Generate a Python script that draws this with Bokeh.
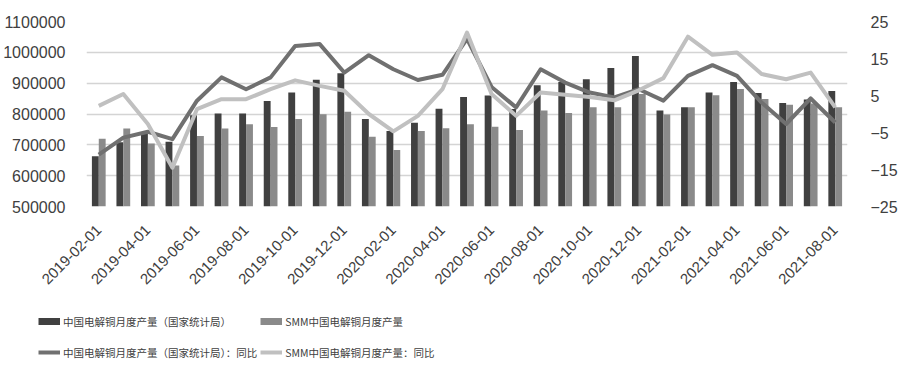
import math
from bokeh.plotting import figure
from bokeh.layouts import column
from bokeh.models import (Range1d, LinearAxis, FixedTicker, Legend, LegendItem,
                          NumeralTickFormatter, ColumnDataSource)
from bokeh.transform import dodge
from bokeh.embed import file_html
from bokeh.resources import INLINE

dates = [
    "2019-02-01", "2019-03-01", "2019-04-01", "2019-05-01", "2019-06-01", "2019-07-01",
    "2019-08-01", "2019-09-01", "2019-10-01", "2019-11-01", "2019-12-01", "2020-01-01",
    "2020-02-01", "2020-03-01", "2020-04-01", "2020-05-01", "2020-06-01", "2020-07-01",
    "2020-08-01", "2020-09-01", "2020-10-01", "2020-11-01", "2020-12-01", "2021-01-01",
    "2021-02-01", "2021-03-01", "2021-04-01", "2021-05-01", "2021-06-01", "2021-07-01",
    "2021-08-01",
]
nbs_output = [663000, 708000, 737000, 710000, 796000, 802000, 802000, 842000, 870000, 911000,
              932000, 784000, 745000, 772000, 817000, 855000, 860000, 816000, 893000, 904000,
              913000, 949000, 988000, 811000, 822000, 870000, 904000, 868000, 836000, 847000,
              875000]
smm_output = [720000, 753000, 704000, 633000, 729000, 753000, 767000, 758000, 784000, 799000,
              807000, 726000, 683000, 745000, 754000, 767000, 759000, 748000, 811000, 803000,
              822000, 822000, 865000, 798000, 822000, 861000, 881000, 849000, 830000, 834000,
              822000]
nbs_yoy = [-11.0, -6.4, -4.8, -6.8, 3.6, 9.9, 6.7, 9.9, 18.4, 18.9, 11.2, 15.9, 12.1, 9.2,
           10.6, 20.3, 7.3, 1.8, 12.1, 8.5, 5.8, 4.5, 6.7, 3.6, 10.3, 13.2, 10.3, 3.1, -2.7,
           4.2, -2.3]
smm_yoy = [2.2, 5.4, -2.7, -14.5, 1.3, 4.0, 4.0, 6.7, 9.1, 7.6, 6.3, 0.0, -4.7, -0.5, 6.7,
           22.0, 5.4, -0.5, 5.8, 5.2, 4.6, 3.7, 6.4, 9.7, 20.9, 16.0, 16.6, 10.8, 9.4, 11.2, 1.8]
left_ticks = [500000, 600000, 700000, 800000, 900000, 1000000, 1100000]
right_ticks = [-25, -15, -5, 5, 15, 25]
labels = ["中国电解铜月度产量（国家统计局）", "SMM中国电解铜月度产量",
          "中国电解铜月度产量（国家统计局）：同比", "SMM中国电解铜月度产量：同比"]

C_DARK = "#404040"
C_MID = "#8a8a8a"
C_LINE1 = "#707070"
C_LINE2 = "#c0c0c0"
TXT = "#404040"

idx = list(range(len(dates)))
src = ColumnDataSource(dict(i=idx, a=nbs_output, b=smm_output, ya=nbs_yoy, yb=smm_yoy))

p = figure(x_range=Range1d(-0.5, len(dates) - 0.5), y_range=Range1d(500000, 1100000),
           width=900, height=298, output_backend="svg", toolbar_location=None,
           min_border_left=86, min_border_right=51, min_border_top=21, min_border_bottom=92)
p.frame_align = False
p.extra_y_ranges = {"yoy": Range1d(-25, 25)}
p.outline_line_color = None

p.vbar(x=dodge("i", -0.14), top="a", bottom=500000, width=0.28,
       source=src, color=C_DARK, line_color=None)
p.vbar(x=dodge("i", 0.14), top="b", bottom=500000, width=0.28,
       source=src, color=C_MID, line_color=None)
p.line(x="i", y="ya", source=src, y_range_name="yoy", line_color=C_LINE1,
       line_width=4, line_join="round")
p.line(x="i", y="yb", source=src, y_range_name="yoy", line_color=C_LINE2,
       line_width=4, line_join="round")

p.yaxis.ticker = FixedTicker(ticks=left_ticks)
p.yaxis.formatter = NumeralTickFormatter(format="0")
ax2 = LinearAxis(y_range_name="yoy", ticker=FixedTicker(ticks=right_ticks))
p.add_layout(ax2, "right")

for ax in [p.yaxis[0], ax2]:
    ax.axis_line_color = None
    ax.major_tick_line_color = None
    ax.minor_tick_line_color = None
    ax.major_label_text_font = "Liberation Sans"
    ax.major_label_text_font_size = "16px"
    ax.major_label_text_color = TXT
p.yaxis[0].major_label_standoff = 15
ax2.major_label_standoff = 17

xa = p.xaxis[0]
xa.ticker = FixedTicker(ticks=idx[::2])
xa.major_label_overrides = {i: dates[i] for i in idx[::2]}
xa.axis_line_color = None
xa.major_tick_line_color = None
xa.minor_tick_line_color = None
xa.major_label_orientation = math.pi / 4
xa.major_label_text_font = "Liberation Sans"
xa.major_label_text_font_size = "15px"
xa.major_label_text_color = TXT
xa.major_label_standoff = 15

p.xgrid.visible = False
p.ygrid.grid_line_color = "#d4d4d4"
p.ygrid.grid_line_width = 1.5

# legend figure (same data; its frame shows none of it, only the legend)
lf = figure(width=900, height=79, x_range=Range1d(-0.5, len(dates) - 0.5),
            y_range=Range1d(-3e6, -2e6), output_backend="svg", toolbar_location=None,
            x_axis_type=None, y_axis_type=None, min_border=0)
lf.frame_align = False
lf.extra_y_ranges = {"yoy": Range1d(-300, -200)}
lf.outline_line_color = None
lf.xgrid.visible = False
lf.ygrid.visible = False
s1 = lf.line(x="i", y="a", source=src, line_color=C_DARK, line_width=7, line_cap="butt")
s2 = lf.line(x="i", y="b", source=src, line_color=C_MID, line_width=7, line_cap="butt")
s3 = lf.line(x="i", y="ya", source=src, y_range_name="yoy", line_color=C_LINE1, line_width=4)
s4 = lf.line(x="i", y="yb", source=src, y_range_name="yoy", line_color=C_LINE2, line_width=4)

legend = Legend(items=[LegendItem(label=labels[0], renderers=[s1]),
                       LegendItem(label=labels[1], renderers=[s2]),
                       LegendItem(label=labels[2], renderers=[s3]),
                       LegendItem(label=labels[3], renderers=[s4])],
                location=(38, 11), orientation="horizontal", nrows=2,
                padding=0, margin=0, border_line_color=None, background_fill_alpha=0,
                glyph_width=22, glyph_height=28, label_height=28, label_standoff=3,
                spacing=3, label_text_font="Noto Sans CJK SC",
                label_text_font_size="10.5px", label_text_color=TXT)
lf.add_layout(legend, "center")

layout = column(p, lf, spacing=0)
open("out.html", "w").write(file_html(layout, INLINE))
